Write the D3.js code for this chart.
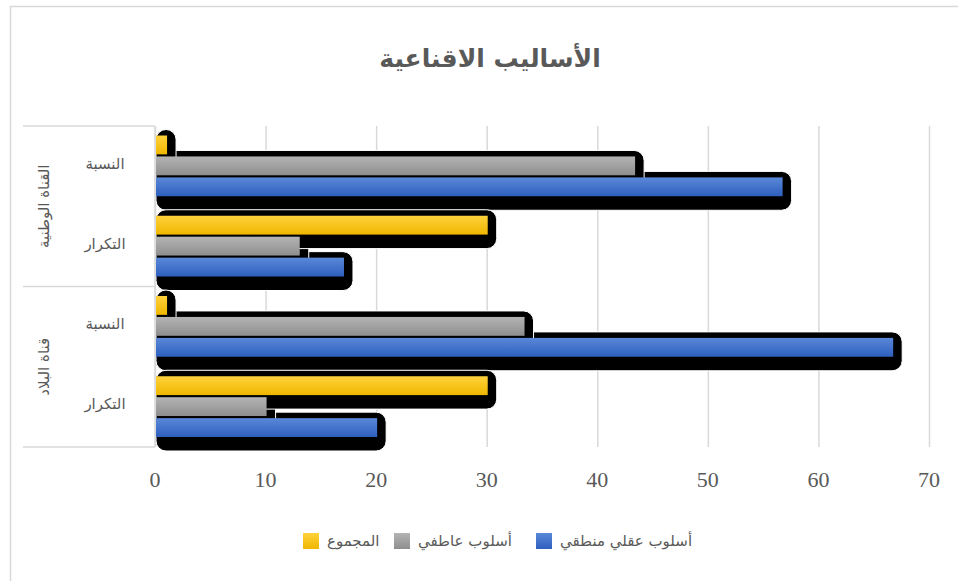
<!DOCTYPE html>
<html>
<head>
<meta charset="utf-8">
<script src="https://cdn.jsdelivr.net/npm/d3@7"></script>
<style>
  body { margin: 0; background: #fff; }
  svg { display: block; }
</style>
</head>
<body>
<div id="chart"></div>
<script>
// channels (outer level) and measures (inner level), top to bottom
const channels = ["القناة الوطنية", "قناة البلاد"];
const measures = ["النسبة", "التكرار"];
// series, drawn in this order (first one sits at the bottom of each category)
const seriesNames = ["أسلوب عقلي منطقي", "أسلوب عاطفي", "المجموع"];
const seriesColors = [["#5a88d8", "#2d5fbe"], ["#b4b4b4", "#8e8e8e"], ["#ffd23c", "#f0b700"]];
// values per category, same order as the categories below
const logicalValues = [56.67, 17, 66.67, 20];
const emotionalValues = [43.33, 13, 33.33, 10];
const totalValues = [1, 30, 1, 30];
const xTicks = [0, 10, 20, 30, 40, 50, 60, 70];

const categories = [];
channels.forEach(c => measures.forEach(m => categories.push(c + "|" + m)));
const allSeries = [logicalValues, emotionalValues, totalValues];

const W = 958, H = 581;
const plot = { left: 155, right: 929, top: 126, bottom: 447 };

const svg = d3.select("#chart").append("svg")
    .attr("width", W).attr("height", H);

// chart border (only top and left show in the frame)
svg.append("rect")
    .attr("x", 10.5).attr("y", 6.5)
    .attr("width", 1000).attr("height", 1000)
    .attr("fill", "none").attr("stroke", "#d9d9d9").attr("stroke-width", 1.5);

const defs = svg.append("defs");
seriesColors.forEach((c, i) => {
    const g = defs.append("linearGradient").attr("id", "grad" + i)
        .attr("x1", 0).attr("y1", 0).attr("x2", 0).attr("y2", 1);
    g.append("stop").attr("offset", "0%").attr("stop-color", c[0]);
    g.append("stop").attr("offset", "100%").attr("stop-color", c[1]);
});

const x = d3.scaleLinear().domain([0, 70]).range([plot.left, plot.right]);
const y = d3.scaleBand().domain(categories).range([plot.top, plot.bottom]);
// inside a category: top = last series
const inner = d3.scaleBand()
    .domain([2, 1, 0])
    .range([9.5, y.bandwidth() - 10])
    .paddingInner(0.1);

// gridlines
svg.append("g").selectAll("line")
    .data(xTicks).join("line")
    .attr("x1", d => x(d) + 0.5).attr("x2", d => x(d) + 0.5)
    .attr("y1", plot.top).attr("y2", plot.bottom)
    .attr("stroke", "#d9d9d9").attr("stroke-width", 1.5);

const flat = [];
allSeries.forEach((vals, s) => vals.forEach((v, i) => flat.push({ s, cat: categories[i], v })));

// shadows first, series by series
const shadows = svg.append("g");
flat.forEach(d => {
    const top = y(d.cat) + inner(d.s);
    shadows.append("rect")
        .attr("x", x(0) + 1)
        .attr("y", top - 6)
        .attr("width", x(d.v) - x(0) + 9)
        .attr("height", inner.bandwidth() + 20)
        .attr("rx", 10)
        .attr("fill", "#000")
        .attr("stroke", "#fff").attr("stroke-width", 1);
});

// bars
svg.append("g").selectAll("rect")
    .data(flat).join("rect")
    .attr("x", x(0) + 1)
    .attr("y", d => y(d.cat) + inner(d.s))
    .attr("width", d => x(d.v) - x(0))
    .attr("height", inner.bandwidth())
    .attr("fill", d => "url(#grad" + d.s + ")");

// axis line and two-level category box
const axisG = svg.append("g").attr("stroke", "#d9d9d9").attr("stroke-width", 1.5);
axisG.append("line").attr("x1", plot.left).attr("x2", plot.left)
    .attr("y1", plot.top).attr("y2", plot.bottom);
[plot.top, (plot.top + plot.bottom) / 2, plot.bottom].forEach(v => {
    axisG.append("line").attr("x1", 23).attr("x2", plot.left)
        .attr("y1", v).attr("y2", v);
});

const textColor = "#595959";
const arabicFont = "'DejaVu Sans', sans-serif";

// inner labels
svg.append("g").selectAll("text")
    .data(categories).join("text")
    .attr("x", 105)
    .attr("y", d => y(d) + y.bandwidth() / 2 - 2)
    .attr("text-anchor", "middle")
    .attr("dominant-baseline", "middle")
    .attr("font-family", arabicFont).attr("font-size", 15)
    .attr("fill", textColor)
    .text(d => d.split("|")[1]);

// outer labels
svg.append("g").selectAll("text")
    .data(channels).join("text")
    .attr("transform", (d, i) => {
        const cy = plot.top + (i + 0.5) * (plot.bottom - plot.top) / 2;
        return `translate(44, ${cy}) rotate(-90)`;
    })
    .attr("text-anchor", "middle")
    .attr("dominant-baseline", "middle")
    .attr("font-family", arabicFont).attr("font-size", 15)
    .attr("fill", textColor)
    .text(d => d);

// x tick labels
svg.append("g").selectAll("text")
    .data(xTicks).join("text")
    .attr("x", d => x(d))
    .attr("y", 487)
    .attr("text-anchor", "middle")
    .attr("font-family", "'Liberation Serif', serif").attr("font-size", 22)
    .attr("fill", textColor)
    .text(d => d);

// title
svg.append("text")
    .attr("x", 490).attr("y", 67)
    .attr("text-anchor", "middle")
    .attr("font-family", arabicFont).attr("font-size", 25).attr("font-weight", "bold")
    .attr("fill", textColor)
    .text("الأساليب الاقناعية");

// legend (left to right on screen)
const legendItems = [
    { s: 2, box: 303 },
    { s: 1, box: 394 },
    { s: 0, box: 536 }
];
const legend = svg.append("g");
legendItems.forEach(it => {
    legend.append("rect")
        .attr("x", it.box).attr("y", 533)
        .attr("width", 16).attr("height", 16)
        .attr("fill", "url(#grad" + it.s + ")");
    legend.append("text")
        .attr("x", it.box + 24).attr("y", 541)
        .attr("text-anchor", "start")
        .attr("direction", "ltr")
        .attr("dominant-baseline", "middle")
        .attr("font-family", arabicFont).attr("font-size", 15)
        .attr("fill", textColor)
        .text(seriesNames[it.s]);
});
</script>
</body>
</html>
